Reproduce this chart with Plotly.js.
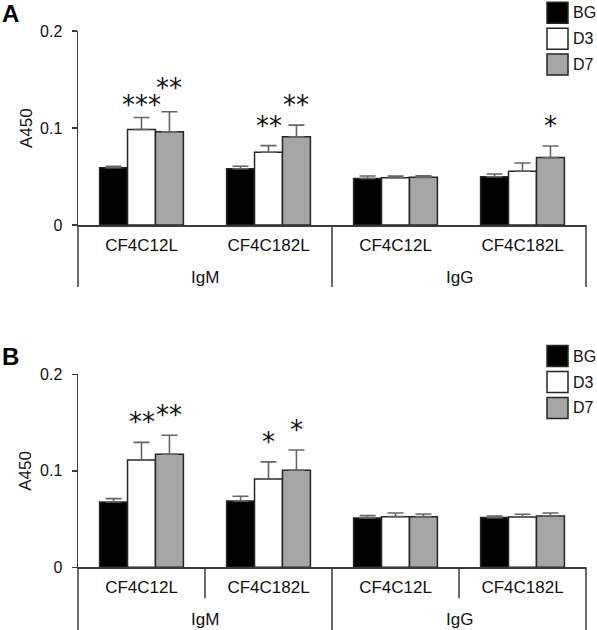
<!DOCTYPE html>
<html>
<head>
<meta charset="utf-8">
<script src="https://cdn.plot.ly/plotly-3.0.1.min.js"></script>
<style>html,body{margin:0;padding:0;background:#fff;}#chart{width:597px;height:630px;}</style>
</head>
<body>
<div id="chart"></div>
<script>
// ---------- data ----------
const groups   = ['IgM', 'IgM', 'IgG', 'IgG'];
const antigens = ['CF4C12L', 'CF4C182L', 'CF4C12L', 'CF4C182L'];
const series   = ['BG', 'D3', 'D7'];
const seriesColors = ['#000000', '#ffffff', '#a6a6a6'];

// Panel A
const A_BG = [0.0590, 0.0580, 0.0480, 0.0498];
const A_BG_err = [0.0016, 0.0025, 0.0025, 0.0028];
const A_D3 = [0.0985, 0.0750, 0.0488, 0.0555];
const A_D3_err = [0.0124, 0.0068, 0.0017, 0.0084];
const A_D7 = [0.0962, 0.0910, 0.0491, 0.0695];
const A_D7_err = [0.0205, 0.0120, 0.0015, 0.0119];
const A_stars_BG = ['', '', '', ''];
const A_stars_D3 = ['***', '**', '', ''];
const A_stars_D7 = ['**', '**', '', '*'];

// Panel B
const B_BG = [0.0677, 0.0687, 0.0511, 0.0515];
const B_BG_err = [0.0035, 0.0050, 0.0024, 0.0017];
const B_D3 = [0.1112, 0.0915, 0.0525, 0.0522];
const B_D3_err = [0.0183, 0.0177, 0.0038, 0.0027];
const B_D7 = [0.1171, 0.1005, 0.0525, 0.0532];
const B_D7_err = [0.0197, 0.0211, 0.0028, 0.0031];
const B_stars_BG = ['', '', '', ''];
const B_stars_D3 = ['**', '*', '', ''];
const B_stars_D7 = ['**', '*', '', ''];

const yTicks = [0, 0.1, 0.2];
const yTickText = ['0', '0.1', '0.2'];

// ---------- layout helpers ----------
const W = 597, H = 630;
const FONT = 'Liberation Sans, Arial, sans-serif';
const STARFONT = 'DejaVu Sans, sans-serif';
const px2x = p => p / W;
const px2y = p => 1 - p / H;
const plotL = 78, plotR = 586;
// small vertical nudges (px) for star labels that would collide: key = 'series,category'
const starNudgeA = {'1,0': -8, '2,0': 4};
const panels = [
  {ax: 'x', ay: 'y', top: 31, bottom: 225, depth: 62, sub: false, letter: 'A', nudge: starNudgeA,
   vals: [A_BG, A_D3, A_D7], errs: [A_BG_err, A_D3_err, A_D7_err], stars: [A_stars_BG, A_stars_D3, A_stars_D7]},
  {ax: 'x2', ay: 'y2', top: 374.3, bottom: 567.3, depth: 64, sub: true, letter: 'B', nudge: {},
   vals: [B_BG, B_D3, B_D7], errs: [B_BG_err, B_D3_err, B_D7_err], stars: [B_stars_BG, B_stars_D3, B_stars_D7]}
];
const xIdx = antigens.map((_, i) => i);
const xRange = [-0.5, antigens.length - 0.5];
const bargap = 0.34;
const barW = (1 - bargap) / series.length;

const data = [];
const shapes = [];
const annotations = [];
const layout = {
  width: W, height: H, autosize: false,
  margin: {l: 0, r: 0, t: 0, b: 0, pad: 0},
  paper_bgcolor: '#fff', plot_bgcolor: 'rgba(0,0,0,0)',
  barmode: 'group', bargap: bargap, bargroupgap: 0,
  showlegend: false,
  font: {family: FONT, color: '#111', size: 17}
};

const axisColor = '#3a3a3a';

panels.forEach((P, pi) => {
  const xa = P.ax === 'x' ? 'xaxis' : 'xaxis2';
  const ya = P.ay === 'y' ? 'yaxis' : 'yaxis2';
  const domH = P.bottom - P.top;
  layout[xa] = {
    domain: [px2x(plotL), px2x(plotR)],
    anchor: P.ay, range: xRange, fixedrange: true,
    tickmode: 'array', tickvals: xIdx, ticktext: antigens,
    ticks: '', showgrid: false, zeroline: false,
    showline: true, linecolor: axisColor, linewidth: 1.5,
    tickfont: {family: FONT, size: 17, color: '#111'},
    ticklabelstandoff: 4
  };
  layout[ya] = {
    domain: [px2y(P.bottom), px2y(P.top)],
    anchor: P.ax, range: [0, 0.2], fixedrange: true,
    tickmode: 'array', tickvals: yTicks, ticktext: yTickText,
    ticks: 'outside', ticklen: 5, tickwidth: 1.5, tickcolor: axisColor,
    showgrid: false, zeroline: false,
    showline: true, linecolor: axisColor, linewidth: 1.5,
    tickfont: {family: FONT, size: 16, color: '#111'},
    ticklabelstandoff: 6
  };
  // y-axis title
  annotations.push({xref: 'paper', yref: P.ay + ' domain', x: px2x(26), y: 0.5,
    text: 'A450', textangle: -90, showarrow: false, xanchor: 'center', yanchor: 'middle',
    font: {family: FONT, size: 17, color: '#111'}});

  series.forEach((s, si) => {
    data.push({
      type: 'bar', name: s, x: xIdx, y: P.vals[si],
      xaxis: P.ax, yaxis: P.ay, offsetgroup: s,
      marker: {color: seriesColors[si], line: {color: '#262626', width: 1.5}},
      error_y: {type: 'data', symmetric: false, array: P.errs[si],
                arrayminus: P.errs[si].map(() => 0),
                color: '#666666', thickness: 1.6, width: 8},
      hoverinfo: 'skip'
    });
    // significance stars
    P.stars[si].forEach((t, i) => {
      if (!t) return;
      annotations.push({
        xref: P.ax, yref: P.ay,
        x: i + (si - (series.length - 1) / 2) * barW,
        y: P.vals[si][i] + P.errs[si][i],
        text: t, showarrow: false, xanchor: 'center', yanchor: 'bottom',
        yshift: 3 + (P.nudge[si + ',' + i] || 0),
        font: {family: STARFONT, size: 26, color: '#111'}
      });
    });
  });

  const xd = P.ax + ' domain', yd = P.ay + ' domain';
  const dep = P.depth / domH;
  const lineStyle = {color: axisColor, width: 1.5};
  const toDom = v => (v - xRange[0]) / (xRange[1] - xRange[0]);
  // bracket lines below the axis
  [0, toDom(1.5), 1].forEach(f => {
    shapes.push({type: 'line', xref: xd, yref: yd, x0: f, x1: f, y0: 0, y1: -dep, line: lineStyle});
  });
  if (P.sub) {
    [toDom(0.5), toDom(2.5)].forEach(f => {
      shapes.push({type: 'line', xref: xd, yref: yd, x0: f, x1: f, y0: 0, y1: -31 / domH, line: lineStyle});
    });
  }
  // group labels
  [['IgM', 0.5], ['IgG', 2.5]].forEach(([g, cx]) => {
    annotations.push({xref: P.ax, yref: yd, x: cx, y: -52 / domH, text: g,
      showarrow: false, xanchor: 'center', yanchor: 'middle',
      font: {family: FONT, size: 17, color: '#111'}});
  });
  // panel letter
  annotations.push({xref: 'paper', yref: 'paper', x: px2x(0), y: px2y(P.top - 31),
    text: '<b>' + P.letter + '</b>', showarrow: false, xanchor: 'left', yanchor: 'top',
    yshift: 2,
    font: {family: FONT, size: 24, color: '#000'}});
  // legend (drawn manually: larger swatches)
  series.forEach((s, si) => {
    const t = P.top - 28.7 + si * 25.9;
    shapes.push({type: 'rect', xref: 'paper', yref: 'paper',
      x0: px2x(547), x1: px2x(568), y0: px2y(t), y1: px2y(t + 21),
      fillcolor: seriesColors[si], line: {color: '#262626', width: 1.5}});
    annotations.push({xref: 'paper', yref: 'paper', x: px2x(571), y: px2y(t + 10.5),
      text: s, showarrow: false, xanchor: 'left', yanchor: 'middle',
      font: {family: FONT, size: 16, color: '#111'}});
  });
});

layout.shapes = shapes;
layout.annotations = annotations;

Plotly.newPlot('chart', data, layout, {staticPlot: true, displayModeBar: false});
</script>
</body>
</html>
